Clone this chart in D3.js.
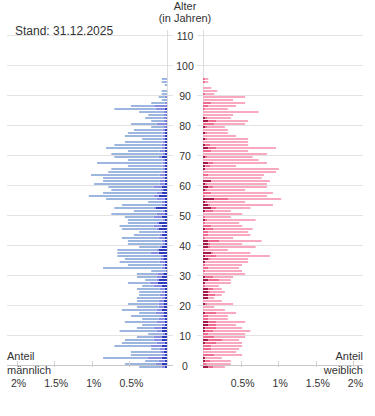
<!DOCTYPE html>
<html>
<head>
<meta charset="utf-8">
<script src="https://cdn.jsdelivr.net/npm/d3@7"></script>
<style>
  body { margin: 0; background: #fff; }
  text { font-family: Arial, "Liberation Sans", sans-serif; fill: #333; }
  .grid line { stroke: #e3e3e3; }
</style>
</head>
<body>
<svg id="pyramid" width="375" height="416"></svg>
<script>
    // Anteil je Altersjahr in % (Index = Alter 0..96), gelesen aus der Vorlage
    const ages = d3.range(0, 97);

    const maleTotal = [
      .37,.56,.29,.85,.48,.48,.21,.70,.60,.56,
      .40,.25,.63,.40,.33,.56,.33,.48,.37,.60,
      .40,.52,.40,.40,.37,.37,.40,.33,.52,.29,
      .40,.40,.21,.85,.52,.63,.56,.66,.66,.66,
      .37,.52,.52,.60,.44,.37,.60,.63,.52,.52,
      .56,.74,.44,.70,.60,.25,.81,1.04,.85,.74,
      .78,.97,.85,.85,1.01,.78,.74,.52,.93,.52,
      .70,.74,.52,.81,.70,.56,.33,.56,.52,.44,
      .21,.48,.21,.29,.25,.37,.70,.48,.21,.07,
      .11,.07,.07,0,.03,.07,.07];
    const maleDark = [
      .03,.07,.03,.07,.03,.04,.03,.07,.03,.07,
      .07,.03,.07,.07,.03,.03,.03,.04,.04,.07,
      .04,.04,.04,.03,.03,.03,.03,.07,.12,.11,
      .07,.05,.01,.03,.03,.03,.05,.05,.11,.11,
      .07,.03,.03,.03,.07,.03,.11,.07,.11,.03,
      .07,.03,.03,.15,.03,.03,.03,.11,.07,.05,
      .07,.03,.03,.03,.03,.03,.03,.03,.03,.03,
      .07,.03,.03,.03,.03,.03,.03,.03,.03,.03,
      .01,.01,.01,.01,.01,.01,.03,.01,0,0,
      0,0,0,0,0,0,0];
    const maleMid = [
      .04,.08,.08,.19,.04,.05,.07,.15,.11,.11,
      .11,.03,.07,.11,.04,.11,.08,.04,.11,.07,
      .07,.07,.07,.04,.07,.04,.07,.11,.11,.03,
      .07,.08,.01,.04,.03,.07,.04,.03,.11,.03,
      .03,.03,.04,.08,.03,.04,.03,.11,.03,.03,
      .11,.11,.03,.03,.04,.04,.11,.07,.07,.03,
      .11,.07,.07,.03,.07,.03,.03,.03,.03,.03,
      .04,.03,.07,.04,.04,.03,.03,.03,.03,.03,
      .03,.13,.03,.03,.03,.03,.12,.16,.03,0,
      .03,0,0,0,0,0,0];

    const femaleTotal = [
      .29,.37,.37,.25,.52,.44,.48,.52,.52,.48,
      .56,.56,.63,.52,.44,.56,.33,.33,.44,.29,
      .15,.40,.25,.15,.25,.29,.25,.21,.37,.37,
      .40,.56,.52,.48,.52,.60,.60,.89,.63,.33,
      .70,.52,.78,.40,.63,.60,.66,.52,.48,.70,
      .37,.52,.37,.63,.93,.56,1.04,.85,.93,.56,
      .85,.85,.89,.78,.81,.97,1.01,.44,.85,.74,
      .66,.85,.60,.97,.60,.60,.60,.44,.33,.33,
      .29,.56,.60,.37,.40,.74,.33,.44,.56,.40,
      .56,.15,.19,.11,0,.07,.07];
    const femaleDark = [
      .07,0,.03,.03,0,0,0,0,.03,.07,
      0,0,.03,.03,.07,.07,0,0,.03,0,
      0,.03,0,.07,.07,.07,.07,0,.03,.07,
      .03,0,0,0,0,.03,.07,.03,.11,0,
      .07,.07,.07,0,0,0,.03,0,0,.03,
      0,0,.03,.11,.07,.03,.15,0,0,.03,
      .07,.03,.11,0,0,0,.03,.03,.07,0,
      .03,0,0,.07,.03,0,.03,0,.03,0,
      .03,0,.07,.03,0,0,0,0,0,0,
      0,0,0,0,0,0,0];
    const femaleMid = [
      .07,.05,.07,0,.15,0,.11,.11,.15,.19,
      .15,.07,.11,.15,.11,.11,.07,.07,.15,0,
      0,.03,0,0,.09,.03,.07,.03,0,.15,
      .11,0,.03,.07,.03,0,.03,.15,.03,.03,
      .03,.03,.15,.03,.07,.07,.11,.11,.03,.03,
      .03,0,.11,.07,.03,.03,.19,.03,.11,.03,
      .07,.03,0,0,.07,0,0,.07,.07,0,
      .03,0,.11,.11,.07,0,.03,0,.03,0,
      .03,.15,.11,.03,0,0,.03,.07,.11,0,
      0,.03,0,0,0,.03,.03];

    const ageTicks = [0, 10, 20, 30, 40, 50, 60, 70, 80, 90, 100, 110];
    const shareTicks = [0.5, 1, 1.5, 2];

    const maleColors = ["#2f3dbd", "#8a8ee2", "#9db6e0"];
    const femaleColors = ["#a2194a", "#f06b90", "#f9a9bf"];

    let svg = d3.select("svg#pyramid");

    // scales
    const yScale = d3.scaleLinear().domain([0, 110]).range([365.5, 35.5]);
    const xMale = d3.scaleLinear().domain([0, 2]).range([167, 16.6]);
    const xFemale = d3.scaleLinear().domain([0, 2]).range([203, 353.4]);

    // horizontal gridlines, split around the age labels
    let grid = svg.append("g").attr("class", "grid");
    ageTicks.filter(a => a > 0).forEach(a => {
      grid.append("line").attr("x1", 7).attr("x2", 173)
        .attr("y1", yScale(a)).attr("y2", yScale(a));
      grid.append("line").attr("x1", 197).attr("x2", 363)
        .attr("y1", yScale(a)).attr("y2", yScale(a));
    });

    // vertical lines of the two panels
    svg.append("line").attr("x1", 167.5).attr("x2", 167.5).attr("y1", 30).attr("y2", 366)
      .attr("stroke", "#dcdcdc");
    svg.append("line").attr("x1", 203.5).attr("x2", 203.5).attr("y1", 30).attr("y2", 366)
      .attr("stroke", "#dcdcdc");

    // bars: dark next to the centre, then medium, then light
    function drawSide(total, dark, mid, colors, xs) {
      let g = svg.append("g");
      ages.forEach((a, i) => {
        let parts = [[0, dark[i]], [dark[i], dark[i] + mid[i]], [dark[i] + mid[i], total[i]]];
        parts.forEach((p, k) => {
          if (p[1] - p[0] <= 0) return;
          let x0 = xs(p[0]), x1 = xs(p[1]);
          g.append("rect")
            .attr("x", Math.min(x0, x1))
            .attr("width", Math.abs(x1 - x0))
            .attr("y", yScale(a) + 0.5)
            .attr("height", 2)
            .attr("fill", colors[k]);
        });
      });
    }
    drawSide(maleTotal, maleDark, maleMid, maleColors, xMale);
    drawSide(femaleTotal, femaleDark, femaleMid, femaleColors, xFemale);

    // base line + ticks
    svg.append("line").attr("x1", 7).attr("x2", 173).attr("y1", 365.5).attr("y2", 365.5).attr("stroke", "#c8c8c8");
    svg.append("line").attr("x1", 200).attr("x2", 363).attr("y1", 365.5).attr("y2", 365.5).attr("stroke", "#c8c8c8");
    shareTicks.forEach(t => {
      [xMale, xFemale].forEach(xs => {
        svg.append("line").attr("x1", Math.round(xs(t)) + 0.5).attr("x2", Math.round(xs(t)) + 0.5)
          .attr("y1", 361).attr("y2", 367).attr("stroke", "#d0d0d0");
        svg.append("text").attr("x", xs(t) + 2).attr("y", 387)
          .attr("text-anchor", "middle").attr("font-size", 10.5)
          .text(String(t).replace(/^0\./, "0.") + "%");
      });
    });

    // age labels
    ageTicks.forEach(a => {
      svg.append("text").attr("x", 185).attr("y", yScale(a) + 4)
        .attr("text-anchor", "middle").attr("font-size", 10.5).attr("fill", "#444")
        .text(a);
    });

    // titles
    svg.append("text").attr("x", 185).attr("y", 10).attr("text-anchor", "middle")
      .attr("font-size", 11).text("Alter");
    svg.append("text").attr("x", 185).attr("y", 22).attr("text-anchor", "middle")
      .attr("font-size", 11).text("(in Jahren)");
    svg.append("text").attr("x", 15).attr("y", 35).attr("font-size", 12).text("Stand: 31.12.2025");

    svg.append("text").attr("x", 7).attr("y", 360).attr("font-size", 11).text("Anteil");
    svg.append("text").attr("x", 7).attr("y", 374).attr("font-size", 11).text("männlich");
    svg.append("text").attr("x", 363).attr("y", 360).attr("font-size", 11).attr("text-anchor", "end").text("Anteil");
    svg.append("text").attr("x", 363).attr("y", 374).attr("font-size", 11).attr("text-anchor", "end").text("weiblich");
</script>
</body>
</html>
